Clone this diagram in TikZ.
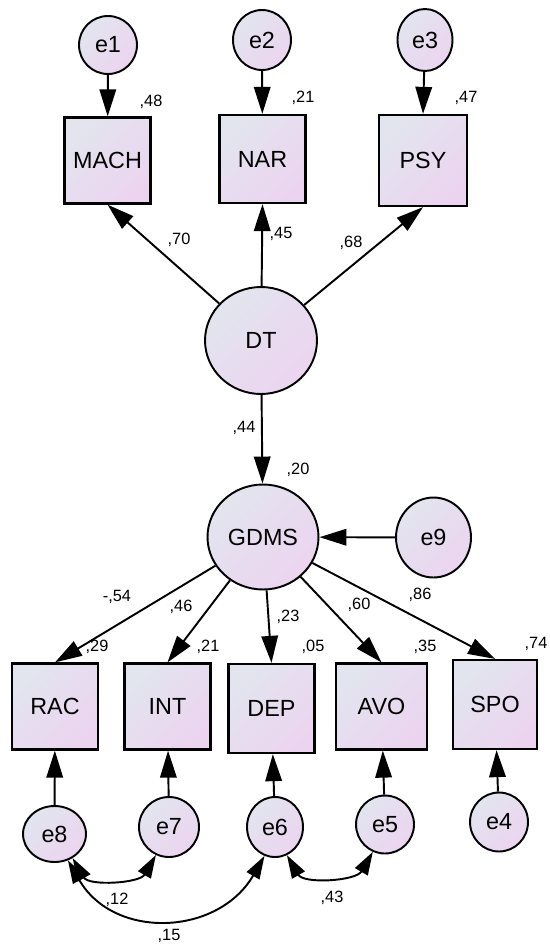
\documentclass[tikz,border=0pt]{standalone}
\usepackage{fontspec}
\setmainfont{Liberation Sans}
\usetikzlibrary{arrows.meta,shapes.geometric}
\definecolor{shadeA}{RGB}{226,229,238}
\definecolor{shadeB}{RGB}{236,212,240}

\begin{document}
\begin{tikzpicture}[x=0.02cm, y=-0.02cm,
    every node/.style={font=\fontsize{13.3}{15}\selectfont},
    obs/.style={draw, line width=1.3pt, rectangle, inner sep=0pt,
                minimum width=1.72cm, minimum height=1.72cm,
                top color=shadeA, bottom color=shadeB, shading angle=45},
    lat/.style={draw, line width=1.1pt, ellipse, inner sep=0pt,
                top color=shadeA, bottom color=shadeB, shading angle=45},
    err/.style={lat, minimum width=1.16cm, minimum height=1.16cm},
    coef/.style={font=\fontsize{9.3}{11}\selectfont, inner sep=0pt},
    reg/.style={line width=1.1pt, -{Triangle[length=0.54cm, width=0.33cm]}},
    cov/.style={line width=1.1pt, {Triangle[length=0.46cm, width=0.29cm]}-{Triangle[length=0.46cm, width=0.29cm]}}]
  \useasboundingbox (0,0) rectangle (550,947);
  \node[err] (e1) at (108,45) {e1};
  \node[err, minimum height=1.2cm] (e2) at (262,40) {e2};
  \node[err, minimum width=1.1cm, minimum height=1.24cm] (e3) at (425,40) {e3};
  \node[obs] (mach) at (107.5,160.5) {MACH};
  \node[obs, minimum height=1.76cm] (nar) at (262.5,159) {NAR};
  \node[obs, minimum width=1.76cm, minimum height=1.82cm] (psy) at (423,160.5) {PSY};
  \node[lat, minimum width=2.24cm, minimum height=2.14cm] (dt) at (261,340.5) {DT};
  \node[lat, minimum width=2.22cm, minimum height=2.1cm] (gdms) at (263,537) {GDMS};
  \node[lat, minimum width=1.5cm, minimum height=1.6cm] (e9) at (433.5,537.5) {e9};
  \node[obs] (rac) at (55,706.5) {RAC};
  \node[obs] (int) at (167.5,706.5) {INT};
  \node[obs, minimum height=1.78cm] (dep) at (271.5,708.5) {DEP};
  \node[obs, minimum width=1.82cm] (avo) at (381.5,706.5) {AVO};
  \node[obs, minimum width=1.68cm, minimum height=1.78cm] (spo) at (495,704.5) {SPO};
  \node[err, minimum width=1.26cm, minimum height=1.12cm] (e8) at (54.5,834) {e8};
  \node[err, minimum width=1.2cm, minimum height=1.2cm] (e7) at (169,827) {e7};
  \node[err, minimum width=1.12cm, minimum height=1.2cm] (e6) at (275,827) {e6};
  \node[err] (e5) at (385,824.5) {e5};
  \node[err, minimum height=1.18cm] (e4) at (499,822) {e4};
  \node[coef] (r_mach) at (151,102) {,48};
  \node[coef] (r_nar) at (303,98) {,21};
  \node[coef] (r_psy) at (466,98) {,47};
  \node[coef] (w_mach) at (179,240) {,70};
  \node[coef] (w_nar) at (281,234) {,45};
  \node[coef] (w_psy) at (351,243) {,68};
  \node[coef] (w_gdms) at (244,428) {,44};
  \node[coef] (r_gdms) at (298,470) {,20};
  \node[coef] (w_rac) at (117,597) {-,54};
  \node[coef] (w_int) at (181,607) {,46};
  \node[coef] (w_dep) at (288,617) {,23};
  \node[coef] (w_avo) at (359,605) {,60};
  \node[coef] (w_spo) at (420,595) {,86};
  \node[coef] (r_rac) at (97,647) {,29};
  \node[coef] (r_int) at (208,647) {,21};
  \node[coef] (r_dep) at (313,647) {,05};
  \node[coef] (r_avo) at (425,647) {,35};
  \node[coef] (r_spo) at (536,644) {,74};
  \node[coef] (c_e8e7) at (117,900) {,12};
  \node[coef] (c_e8e6) at (169,936) {,15};
  \node[coef] (c_e6e5) at (332,898) {,43};
  \draw[reg] (e1) -- (mach);
  \draw[reg] (e2) -- (nar);
  \draw[reg] (e3) -- (psy.north);
  \draw[reg] (dt) -- (mach.south);
  \draw[reg] (dt) -- (nar.south);
  \draw[reg] (dt) -- (psy.south);
  \draw[reg] (dt) -- (gdms);
  \draw[reg] (e9) -- (gdms);
  \draw[reg] (gdms) -- (rac.north);
  \draw[reg] (gdms) -- (int.north);
  \draw[reg] (gdms) -- (dep.north);
  \draw[reg] (gdms) -- (avo.north);
  \draw[reg] (gdms) -- (spo.north);
  \draw[reg] (e8) -- (rac);
  \draw[reg] (e7) -- (int);
  \draw[reg] (e6) -- (dep);
  \draw[reg] (e5) -- (avo);
  \draw[reg] (e4) -- (spo);
  \draw[cov] (e8.-53) to[out=-60, in=-120] (e7.-115);
  \draw[cov] (e8.-63) to[out=-60, in=-120, looseness=1.2] (e6.-110);
  \draw[cov] (e6.-67) to[out=-60, in=-120] (e5.-114);
\end{tikzpicture}
\end{document}
